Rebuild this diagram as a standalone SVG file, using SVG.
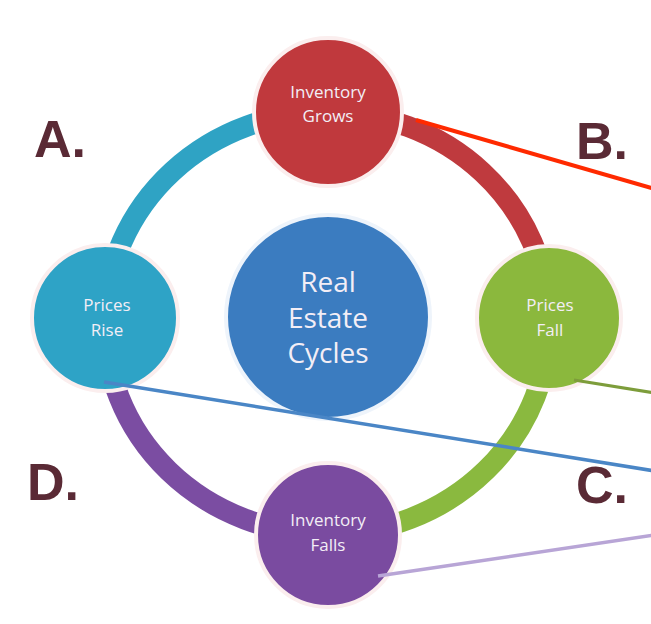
<svg xmlns="http://www.w3.org/2000/svg" width="651" height="624" viewBox="0 0 651 624">
  <defs>
    <style>
      .ring { fill: none; stroke-width: 21; stroke-linecap: butt; }
      .node { stroke: #fbeeee; stroke-width: 4; }
      .label { font-family: "Open Sans", "Liberation Sans", sans-serif; fill: #f3eef6; text-anchor: middle; }
      .small { font-size: 17px; }
      .big { font-size: 28px; }
      .letter { font-family: "Liberation Sans", Arial, sans-serif; font-weight: bold; font-size: 52px; fill: #5a2a35; }
      .link { fill: none; }
    </style>
  </defs>
  <rect width="651" height="624" fill="#ffffff"/>

  <!-- ring segments between the four stages -->
  <g id="ring">
    <path class="ring" stroke="#2fa3c4" d="M 105 318 A 222 211 0 0 1 328 112"/>
    <path class="ring" stroke="#bf3a3e" d="M 328 112 A 222 211 0 0 1 549 318"/>
    <path class="ring" stroke="#8ab93f" d="M 549 318 A 222 211 0 0 1 328 534"/>
    <path class="ring" stroke="#7b4da2" d="M 328 534 A 222 211 0 0 1 105 318"/>
  </g>

  <!-- quadrant letters -->
  <g id="letters">
    <text class="letter" x="34" y="157">A.</text>
    <text class="letter" x="576" y="159">B.</text>
    <text class="letter" x="576" y="503">C.</text>
    <text class="letter" x="27" y="500">D.</text>
  </g>

  <g id="center">
    <circle cx="328" cy="317" r="102" fill="#3b7cc0" stroke="#eef4fb" stroke-width="4"/>
    <text class="label big" x="328" y="292">Real</text>
    <text class="label big" x="328" y="328">Estate</text>
    <text class="label big" x="328" y="363">Cycles</text>
  </g>

  <g id="inventory-grows">
    <circle class="node" cx="328" cy="112" r="74" fill="#c0393d"/>
    <text class="label small" x="328" y="98">Inventory</text>
    <text class="label small" x="328" y="122">Grows</text>
  </g>

  <g id="prices-rise">
    <circle class="node" cx="105" cy="318" r="73" fill="#2ea3c6" stroke="#e9f8fb"/>
    <text class="label small" x="107" y="311">Prices</text>
    <text class="label small" x="107" y="336">Rise</text>
  </g>

  <g id="prices-fall">
    <circle class="node" cx="549" cy="318" r="72" fill="#8bb83d" stroke="#f5fae9"/>
    <text class="label small" x="550" y="311">Prices</text>
    <text class="label small" x="550" y="336">Fall</text>
  </g>

  <g id="inventory-falls">
    <circle class="node" cx="328" cy="535" r="72" fill="#7a4ba0" stroke="#f3ecf8"/>
    <text class="label small" x="328" y="526">Inventory</text>
    <text class="label small" x="328" y="551">Falls</text>
  </g>

  <!-- leader lines running off the right edge -->
  <g id="connectors">
    <line class="link" x1="416" y1="120" x2="655" y2="189" stroke="#ff2a00" stroke-width="4"/>
    <line class="link" x1="574" y1="380" x2="655" y2="393" stroke="#7d9d3b" stroke-width="3"/>
    <line class="link" x1="104" y1="382" x2="655" y2="471" stroke="#4a86c6" stroke-width="3.5"/>
    <line class="link" x1="378" y1="576" x2="655" y2="535" stroke="#b8a5d6" stroke-width="3.5"/>
  </g>
</svg>
